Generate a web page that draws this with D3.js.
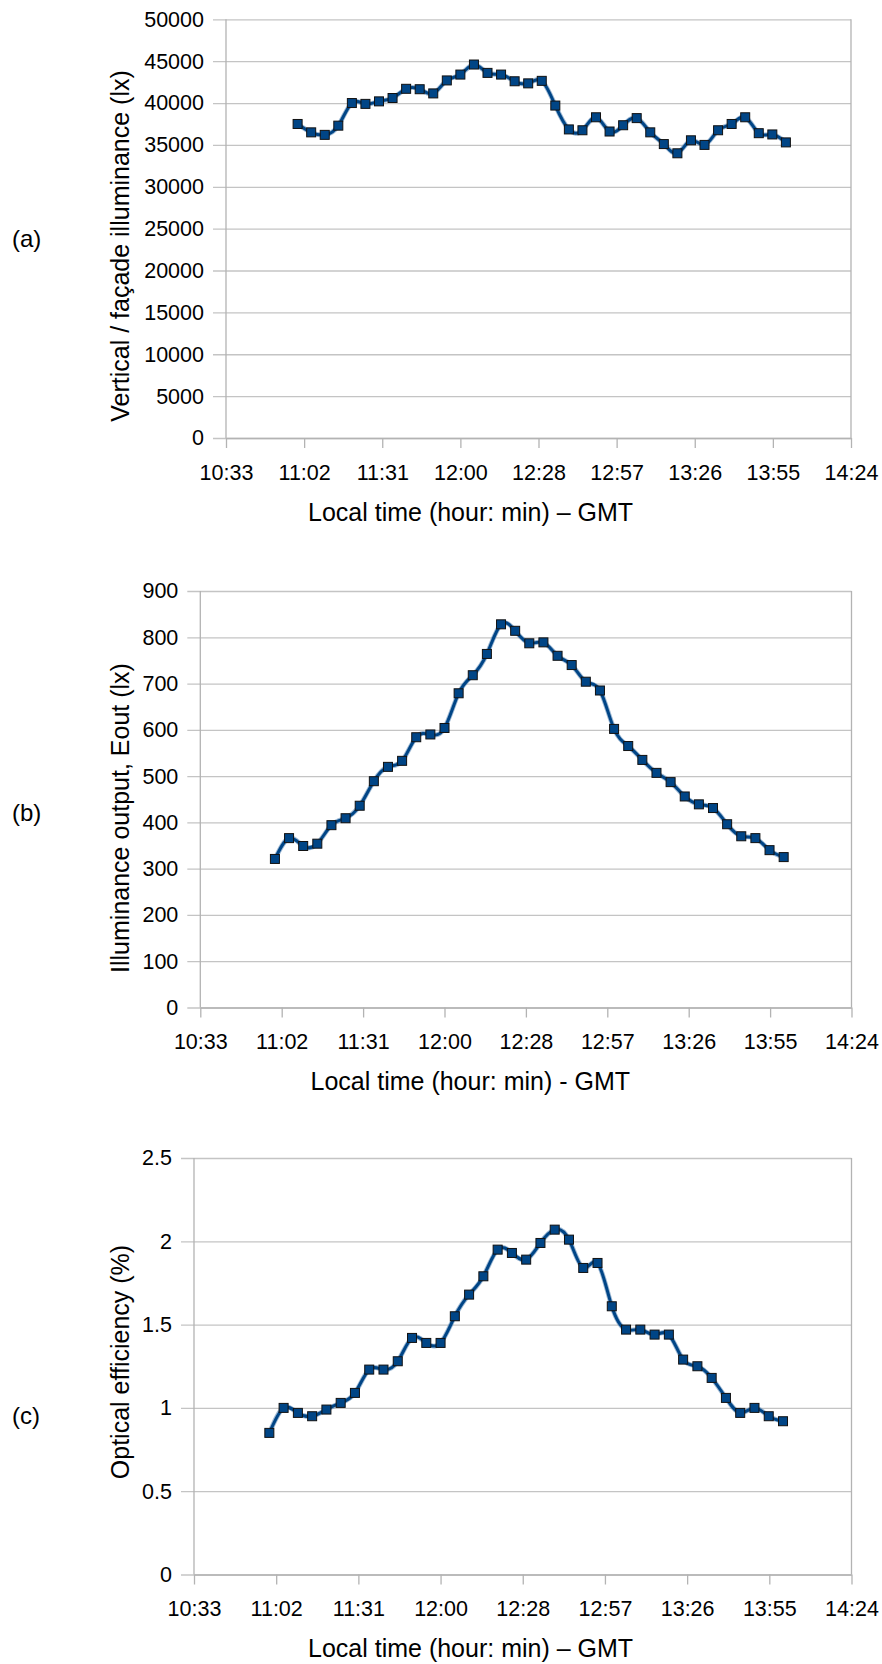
<!DOCTYPE html>
<html>
<head>
<meta charset="utf-8">
<script src="https://cdn.jsdelivr.net/npm/d3@7"></script>
<style>
  body { margin: 0; background: #fff; }
  svg text { font-family: "Liberation Sans", Arial, sans-serif; fill: #000; }
</style>
</head>
<body>
<svg id="fig" width="882" height="1664"></svg>
<script>
// Sampling times (local time, GMT), one reading every five minutes
const times = ["11:00","11:05","11:10","11:15","11:20","11:25","11:30","11:35","11:40","11:45",
               "11:50","11:55","12:00","12:05","12:10","12:15","12:20","12:25","12:30","12:35",
               "12:40","12:45","12:50","12:55","13:00","13:05","13:10","13:15","13:20","13:25",
               "13:30","13:35","13:40","13:45","13:50","13:55","14:00"];

// (a) vertical / facade illuminance, lx
const facadeLux = [37500,36500,36200,37300,40000,39900,40200,40600,41700,41650,
                   41150,42700,43400,44600,43600,43400,42600,42350,42650,39700,
                   36850,36750,38300,36600,37350,38200,36500,35100,34000,35550,
                   35000,36750,37500,38300,36400,36250,35300];

// (b) illuminance output Eout, lx
const outputLux = [321,366,349,354,394,409,436,489,520,533,
                   584,590,604,679,718,764,828,814,787,789,
                   760,740,704,685,602,565,535,507,487,456,
                   439,431,396,370,366,340,325];

// (c) optical efficiency, %
const efficiencyPct = [0.85,1.00,0.97,0.95,0.99,1.03,1.09,1.23,1.23,1.28,
                       1.42,1.39,1.39,1.55,1.68,1.79,1.95,1.93,1.89,1.99,
                       2.07,2.01,1.84,1.87,1.61,1.47,1.47,1.44,1.44,1.29,
                       1.25,1.18,1.06,0.97,1.00,0.95,0.92];

// Time axis: ticks every 0.02 day, labelled as hh:mm
const timeTickDays = [0.44,0.46,0.48,0.50,0.52,0.54,0.56,0.58,0.60];
const timeTickLabels = ["10:33","11:02","11:31","12:00","12:28","12:57","13:26","13:55","14:24"];

const facadeTicks = [0,5000,10000,15000,20000,25000,30000,35000,40000,45000,50000];
const outputTicks = [0,100,200,300,400,500,600,700,800,900];
const efficiencyTicks = [0,0.5,1,1.5,2,2.5];

const toDay = s => { const [h, m] = s.split(":").map(Number); return (h * 60 + m) / 1440; };

const panels = [
  { tag: "(a)", values: facadeLux, ticks: facadeTicks, fmt: d => String(d),
    yTitle: "Vertical / façade illuminance (lx)", xTitle: "Local time (hour: min) – GMT",
    box: { left: 226, right: 851, top: 19.3, bottom: 438 },
    tagY: 239, yTitleY: 246, xTitleX: 308 },
  { tag: "(b)", values: outputLux, ticks: outputTicks, fmt: d => String(d),
    yTitle: "Illuminance output, Eout (lx)", xTitle: "Local time (hour: min) - GMT",
    box: { left: 200.3, right: 851.5, top: 591, bottom: 1007.5 },
    tagY: 813, yTitleY: 818, xTitleX: 310.5 },
  { tag: "(c)", values: efficiencyPct, ticks: efficiencyTicks, fmt: d => String(d),
    yTitle: "Optical efficiency (%)", xTitle: "Local time (hour: min) – GMT",
    box: { left: 194, right: 851.5, top: 1158, bottom: 1574.5 },
    tagY: 1416, yTitleY: 1362, xTitleX: 308 }
];

const svg = d3.select("#fig");
const gridColor = "#c4c4c4";
const axisColor = "#b3b3b3";
const seriesColor = "#004586";

panels.forEach(p => {
  const b = p.box;
  const w = b.right - b.left;
  const x = d3.scaleLinear().domain([timeTickDays[0], timeTickDays[timeTickDays.length - 1]]).range([b.left, b.right]);
  const y = d3.scaleLinear().domain([0, p.ticks[p.ticks.length - 1]]).range([b.bottom, b.top]);
  const g = svg.append("g");

  // horizontal gridlines, extending left of the axis as tick marks, with value labels
  const yAxis = d3.axisLeft(y).tickValues(p.ticks).tickFormat(p.fmt)
    .tickSizeInner(w + 13).tickSizeOuter(0).tickPadding(9);
  const gy = g.append("g").attr("transform", `translate(${b.right},0)`).call(yAxis);
  gy.select(".domain").remove();
  gy.selectAll(".tick line").attr("stroke", gridColor).attr("stroke-width", 1.3);
  gy.selectAll(".tick text").attr("font-size", 21.5);

  // time axis with tick marks below the zero line
  const xAxis = d3.axisBottom(x).tickValues(timeTickDays).tickFormat((d, i) => timeTickLabels[i])
    .tickSizeInner(10).tickSizeOuter(0).tickPadding(16.5);
  const gx = g.append("g").attr("transform", `translate(0,${b.bottom})`).call(xAxis);
  gx.select(".domain").attr("stroke", axisColor).attr("stroke-width", 1.3);
  gx.selectAll(".tick line").attr("stroke", axisColor).attr("stroke-width", 1.3);
  gx.selectAll(".tick text").attr("font-size", 21.5);

  // left axis line and right frame
  g.append("line").attr("x1", b.left).attr("x2", b.left).attr("y1", b.top).attr("y2", b.bottom)
    .attr("stroke", axisColor).attr("stroke-width", 1.3);
  g.append("line").attr("x1", b.right).attr("x2", b.right).attr("y1", b.top).attr("y2", b.bottom)
    .attr("stroke", axisColor).attr("stroke-width", 1.3);

  // smoothed series line
  const pts = times.map((t, i) => [x(toDay(t)), y(p.values[i])]);
  const line = d3.line().curve(d3.curveNatural);
  g.append("path").attr("d", line(pts)).attr("fill", "none")
    .attr("stroke", "#4f7fb0").attr("stroke-opacity", 0.55).attr("stroke-width", 4.8);
  g.append("path").attr("d", line(pts)).attr("fill", "none")
    .attr("stroke", seriesColor).attr("stroke-width", 3);

  // square markers
  g.selectAll("rect.mk").data(times).join("rect").attr("class", "mk")
    .attr("x", (t) => x(toDay(t)) - 4.5)
    .attr("y", (t, i) => y(p.values[i]) - 4.5)
    .attr("width", 9).attr("height", 9)
    .attr("fill", seriesColor).attr("stroke", "#111").attr("stroke-width", 1);

  // axis titles
  g.append("text").attr("x", p.xTitleX).attr("y", b.bottom + 82.5)
    .attr("font-size", 25).text(p.xTitle);
  g.append("text").attr("transform", `translate(129,${p.yTitleY}) rotate(-90)`)
    .attr("text-anchor", "middle").attr("font-size", 25).text(p.yTitle);

  // panel tag
  g.append("text").attr("x", 12).attr("y", p.tagY + 8).attr("font-size", 24).text(p.tag);
});
</script>
</body>
</html>
